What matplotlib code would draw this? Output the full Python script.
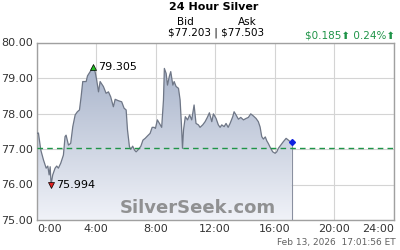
"""24 hour silver price chart (SilverSeek style)."""

import matplotlib

matplotlib.use("Agg")
import matplotlib.pyplot as plt
import numpy as np
from matplotlib.patches import Polygon

# hours since start of window, spot price in $
HOURS = [
    0.00, 0.11, 0.27, 0.45, 0.63, 0.74, 0.83, 0.90, 0.96, 1.07, 1.23, 1.34, 1.45,
    1.61, 1.79, 1.90, 1.97, 2.13, 2.28, 2.42, 2.58, 2.73, 2.87, 2.98, 3.09, 3.32,
    3.41, 3.59, 3.77, 3.92, 4.03, 4.15, 4.26, 4.48, 4.66, 4.82, 4.97, 5.15, 5.27,
    5.49, 5.71, 5.87, 6.01, 6.10, 6.23, 6.32, 6.45, 6.57, 6.68, 6.84, 7.00, 7.14,
    7.29, 7.45, 7.62, 7.76, 7.89, 7.98, 8.11, 8.25, 8.40, 8.52, 8.58, 8.70, 8.79,
    8.91, 9.01, 9.15, 9.24, 9.37, 9.53, 9.64, 9.73, 9.80, 9.87, 9.99, 10.14, 10.28,
    10.42, 10.58, 10.71, 10.87, 10.98, 11.16, 11.32, 11.47, 11.61, 11.77, 11.88,
    12.06, 12.21, 12.33, 12.44, 12.60, 12.73, 12.87, 13.00, 13.18, 13.27, 13.40,
    13.56, 13.72, 13.90, 14.07, 14.23, 14.39, 14.57, 14.75, 14.90, 15.02, 15.13,
    15.24, 15.37, 15.47, 15.58, 15.73, 15.87, 16.03, 16.14, 16.25, 16.41, 16.59,
    16.77, 16.92, 17.03, 17.15,
]
PRICES = [
    77.44, 77.45, 76.97, 76.69, 76.46, 76.52, 76.27, 76.50, 75.994, 76.27, 76.46,
    76.52, 76.46, 76.60, 76.83, 77.35, 77.39, 77.11, 77.16, 77.63, 77.96, 78.05,
    78.10, 78.47, 78.90, 78.90, 79.06, 79.18, 79.305, 79.18, 78.94, 78.61, 78.90,
    78.76, 78.57, 78.61, 78.47, 78.19, 78.40, 78.36, 78.33, 78.15, 78.10, 77.54,
    77.07, 76.99, 77.08, 76.97, 76.92, 76.99, 77.08, 77.25, 77.30, 77.37, 77.44,
    77.61, 77.61, 77.58, 77.82, 77.72, 77.61, 78.38, 79.27, 79.13, 78.80, 79.04,
    79.18, 78.80, 78.90, 78.76, 78.71, 78.38, 77.68, 77.02, 77.54, 77.91, 77.82,
    77.96, 77.82, 78.24, 77.72, 77.68, 77.61, 77.68, 77.77, 77.89, 78.02, 77.77,
    77.99, 77.86, 77.68, 77.61, 77.68, 77.63, 77.72, 77.61, 77.72, 77.91, 78.05,
    77.96, 77.84, 77.89, 77.82, 77.86, 77.89, 77.99, 77.93, 77.86, 77.77, 77.62,
    77.35, 77.28, 77.34, 77.23, 77.15, 77.02, 76.92, 76.88, 76.92, 77.02, 77.11,
    77.21, 77.30, 77.25, 77.21, 77.203,
]
PREV_CLOSE = 77.018
BID = 77.203
ASK = 77.503
CHANGE = 0.185
CHANGE_PCT = 0.24
X_TICKS = [0, 4, 8, 12, 16, 20, 24]
X_LABELS = ["0:00", "4:00", "8:00", "12:00", "16:00", "20:00", "24:00"]
Y_TICKS = [75, 76, 77, 78, 79, 80]
STAMP = "Feb 13, 2026  17:01:56 ET"

GREEN = "#1f9448"

fig = plt.figure(figsize=(4, 2.5), dpi=100)
ax = fig.add_axes([0.092, 0.12, 0.892, 0.71])
ax.set_xlim(0, 24)
ax.set_ylim(75, 80)

x = np.array(HOURS)
y = np.array(PRICES)

# gradient area under the line
verts = [(x[0], 75)] + list(zip(x, y)) + [(x[-1], 75)]
poly = Polygon(verts, closed=True, facecolor="none", edgecolor="none")
ax.add_patch(poly)
grad = np.linspace(0, 1, 256).reshape(-1, 1)
cmap = matplotlib.colors.LinearSegmentedColormap.from_list("fill", ["#f0f2f8", "#9eabc4"])
im = ax.imshow(grad, extent=[0, 24, 75, 80], origin="lower", aspect="auto", cmap=cmap, zorder=1)
im.set_clip_path(poly)
ax.plot(x, y, color="#6e7686", lw=0.9, zorder=3)
ax.plot([x[-1], x[-1]], [75, y[-1]], color="#8a90a0", lw=0.8, zorder=3)

ax.axhline(PREV_CLOSE, color=GREEN, lw=1.0, ls=(0, (4, 3)), zorder=4)

# high / low / last markers
i_hi = int(np.argmax(y))
i_lo = int(np.argmin(y))
ax.plot(x[i_hi], y[i_hi], marker="^", ms=4, color="#22c022", mec="black", mew=0.5, zorder=5)
ax.text(x[i_hi] + 0.35, y[i_hi], f"{y[i_hi]:.3f}", fontsize=8, va="center", ha="left", zorder=5)
ax.plot(x[i_lo], y[i_lo], marker="v", ms=4, color="#e02020", mec="black", mew=0.5, zorder=5)
ax.text(x[i_lo] + 0.35, y[i_lo], f"{y[i_lo]:.3f}", fontsize=8, va="center", ha="left", zorder=5)
ax.plot(x[-1], y[-1], marker="D", ms=3, color="#1020e0", zorder=5)

ax.text(0.452, 0.015, "SilverSeek.com", transform=ax.transAxes, ha="center", va="bottom",
        fontsize=13, fontweight="bold", color="#7a7a7a", alpha=0.8, zorder=6)

ax.set_xticks(X_TICKS)
ax.set_yticks(Y_TICKS)
ax.set_yticklabels([f"{v:.2f}" for v in Y_TICKS], fontsize=8, color="#333333")
ax.set_xticklabels(X_LABELS, fontsize=8, color="#333333")
for lbl, ha in zip(ax.get_xticklabels(), ["left"] + ["center"] * 5 + ["right"]):
    lbl.set_ha(ha)
ax.tick_params(length=0, pad=3)
ax.grid(True, color="#d4d4d4", lw=0.8, zorder=0)
ax.set_axisbelow(True)
for s in ax.spines.values():
    s.set_color("#a0a0a0")
    s.set_linewidth(1.0)

fig.text(0.533, 0.972, "24 Hour Silver", ha="center", va="center", fontsize=8, fontweight="bold")
fig.text(0.463, 0.912, "Bid", ha="center", va="center", fontsize=7.5)
fig.text(0.618, 0.912, "Ask", ha="center", va="center", fontsize=7.5)
fig.text(0.539, 0.868, f"\\${BID:.3f} | \\${ASK:.3f}", ha="center", va="center", fontsize=7.5)
fig.text(0.988, 0.86, f"\\${CHANGE:.3f}\u2b06 {CHANGE_PCT:.2f}%\u2b06", ha="right", va="center",
         fontsize=7.5, color=GREEN)
fig.text(0.988, 0.028, STAMP, ha="right", va="center", fontsize=6.5, color="#606060")

fig.savefig("out.png", dpi=100)
